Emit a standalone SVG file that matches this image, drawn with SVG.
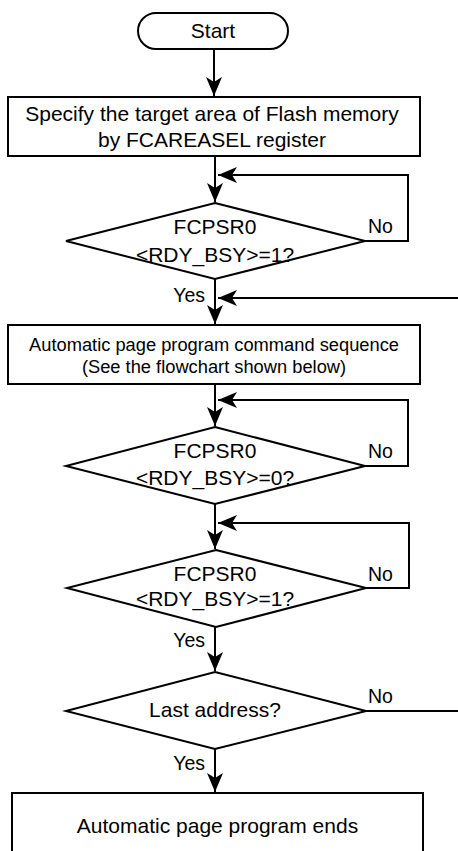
<svg xmlns="http://www.w3.org/2000/svg" width="458" height="851" viewBox="0 0 458 851">
<style>
.sh{fill:#fff;stroke:#000;stroke-width:2}
.ln{fill:none;stroke:#000;stroke-width:2}
text{font-family:"Liberation Sans",Arial,sans-serif;fill:#000}
.t{font-size:21px;text-anchor:middle}
.s{font-size:18.3px;text-anchor:middle}
.l{font-size:19.5px}
</style>
<defs>
<marker id="ar" markerUnits="userSpaceOnUse" viewBox="-20 -10 22 20" markerWidth="22" markerHeight="20" refX="0" refY="0" orient="auto">
<path d="M0,0 L-19,-8 L-14,0 L-19,8 Z" fill="#000"/>
</marker>
</defs>
<rect width="458" height="851" fill="#fff"/>
<g id="connectors">
<path class="ln" d="M214,49 V96" marker-end="url(#ar)"/>
<path class="ln" d="M215,156 V202" marker-end="url(#ar)"/>
<path class="ln" d="M365,241 H408 V175 H218" marker-end="url(#ar)"/>
<path class="ln" d="M215,279 V324" marker-end="url(#ar)"/>
<path class="ln" d="M458,298 H218" marker-end="url(#ar)"/>
<path class="ln" d="M215,384 V426" marker-end="url(#ar)"/>
<path class="ln" d="M365,466 H408 V400 H218" marker-end="url(#ar)"/>
<path class="ln" d="M215,504 V549" marker-end="url(#ar)"/>
<path class="ln" d="M366,588 H409 V523 H218" marker-end="url(#ar)"/>
<path class="ln" d="M215,627 V671" marker-end="url(#ar)"/>
<path class="ln" d="M366,711 H458"/>
<path class="ln" d="M215,749 V792" marker-end="url(#ar)"/>
<text class="l" x="368" y="233">No</text>
<text class="l" x="205" y="302" text-anchor="end">Yes</text>
<text class="l" x="368" y="458">No</text>
<text class="l" x="368" y="581">No</text>
<text class="l" x="205" y="647" text-anchor="end">Yes</text>
<text class="l" x="368" y="703">No</text>
<text class="l" x="205" y="770" text-anchor="end">Yes</text>
</g>
<g id="start">
<rect class="sh" x="138" y="13" width="150" height="36" rx="18"/>
<text class="t" x="213" y="38">Start</text>
</g>
<g id="specify">
<rect class="sh" x="8" y="97" width="412" height="59"/>
<text class="t" x="212" y="121">Specify the target area of Flash memory</text>
<text class="t" x="212" y="147">by FCAREASEL register</text>
</g>
<g id="check1">
<polygon class="sh" points="215,203 365,241 215,279 66,241"/>
<text class="t" x="215" y="234">FCPSR0</text>
<text class="t" x="215" y="262">&lt;RDY_BSY&gt;=1?</text>
</g>
<g id="command">
<rect class="sh" x="8" y="325" width="412" height="59"/>
<text class="s" x="214" y="351">Automatic page program command sequence</text>
<text class="s" x="214" y="373">(See the flowchart shown below)</text>
</g>
<g id="check0">
<polygon class="sh" points="215,427 365,466 215,504 66,466"/>
<text class="t" x="215" y="458">FCPSR0</text>
<text class="t" x="215" y="485">&lt;RDY_BSY&gt;=0?</text>
</g>
<g id="check2">
<polygon class="sh" points="216,550 366,588 216,627 67,588"/>
<text class="t" x="215" y="581">FCPSR0</text>
<text class="t" x="215" y="606">&lt;RDY_BSY&gt;=1?</text>
</g>
<g id="last">
<polygon class="sh" points="215,672 366,711 215,749 66,711"/>
<text class="t" x="215" y="717">Last address?</text>
</g>
<g id="end">
<rect class="sh" x="12" y="793" width="411" height="70"/>
<text class="t" x="217.5" y="833">Automatic page program ends</text>
</g>
</svg>
